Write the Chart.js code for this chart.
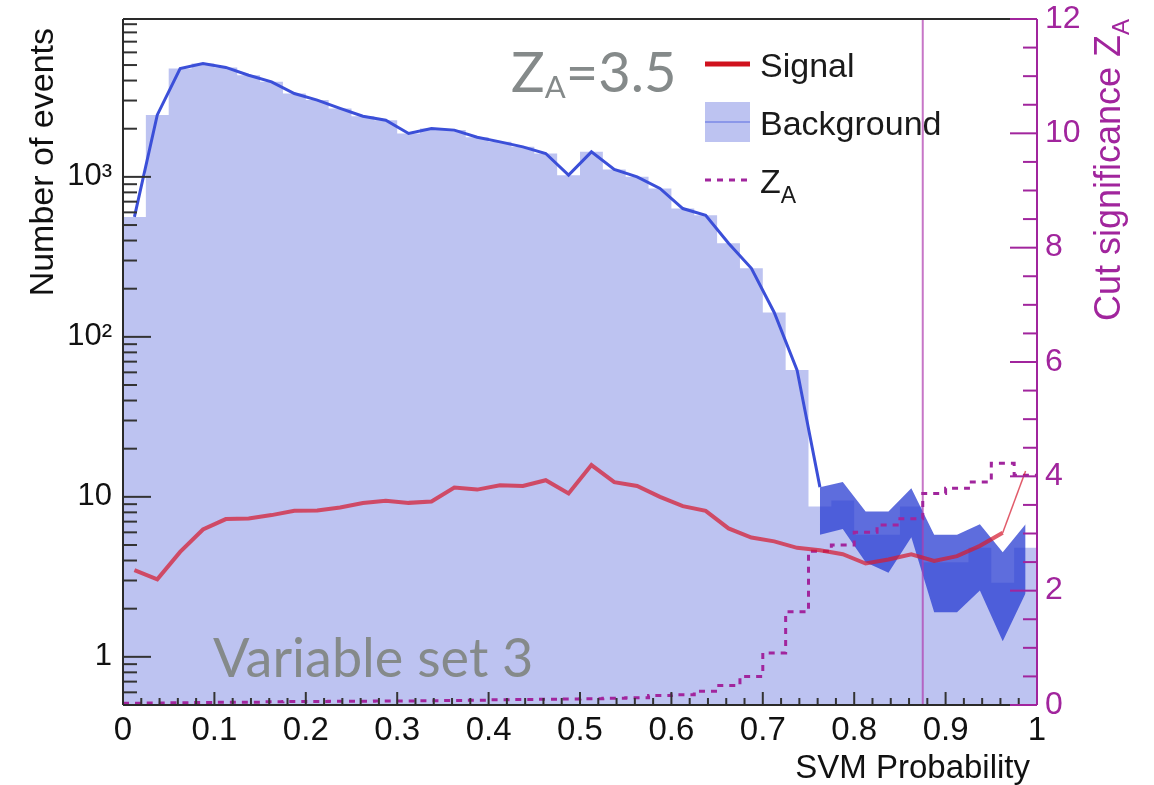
<!DOCTYPE html>
<html>
<head>
<meta charset="utf-8">
<script src="https://cdn.jsdelivr.net/npm/chart.js@4"></script>
<style>
  html, body { margin: 0; padding: 0; background: #fff; }
  #wrap { width: 1154px; height: 785px; }
</style>
</head>
<body>
<div id="wrap"><canvas id="myChart" width="1154" height="785"></canvas></div>
<script>
// 40 bins of SVM probability, 0 .. 1
const binWidth = 0.025;

const background = [562, 2440, 4760, 5110, 4830, 4320, 3925, 3320, 3020, 2680,
  2395, 2260, 1866, 2005, 1960, 1770, 1655, 1540, 1400, 1025,
  1433, 1112, 1000, 847, 634, 576, 385, 268, 142, 62,
  8.7, 9.5, 5.8, 5.8, 8.7, 3.9, 3.9, 4.8, 2.9, 4.8];

const signal = [3.48, 3.05, 4.53, 6.25, 7.26, 7.33, 7.69, 8.18, 8.22, 8.58,
  9.14, 9.44, 9.17, 9.36, 11.45, 11.1, 11.8, 11.7, 12.7, 10.5,
  15.8, 12.35, 11.7, 10.0, 8.75, 8.18, 6.35, 5.57, 5.27, 4.8,
  4.64, 4.38, 3.83, 4.06, 4.38, 3.98, 4.26, 4.94, 5.96, 14.5];

const zA = [0.03, 0.035, 0.04, 0.045, 0.05, 0.05, 0.055, 0.06, 0.06, 0.065,
  0.065, 0.07, 0.07, 0.075, 0.08, 0.085, 0.09, 0.095, 0.1, 0.105,
  0.11, 0.12, 0.125, 0.164, 0.18, 0.24, 0.34, 0.5, 0.91, 1.63,
  2.69, 2.8, 3.02, 3.15, 3.26, 3.7, 3.79, 3.9, 4.23, 4.02];

// background error band, bins 30..39
const bandStart = 30;
const bandHigh = [11.5, 12.4, 8.1, 8.1, 11.3, 5.8, 5.8, 6.75, 4.5, 6.75];
const bandLow = [5.8, 6.3, 3.9, 3.35, 5.6, 1.9, 1.9, 2.6, 1.25, 2.5];

const cutValue = 0.875;

const logTicks = [1, 10, 100, 1000];
const logLabels = ['1', '10', '10²', '10³'];

const MAGENTA = '#a1259d';
const LAVENDER = '#bdc3f1';
const BLUE = '#3b4fd8';
const RED = 'rgba(214, 28, 48, 0.72)';
const SANS = '"Liberation Sans", Arial, sans-serif';

const centre = i => (i + 0.5) * binWidth;

function steps(values) {
  const pts = values.map((v, i) => ({ x: i * binWidth, y: v }));
  pts.push({ x: values.length * binWidth, y: values[values.length - 1] });
  return pts;
}

const bkgLine = background.slice(0, bandStart).map((v, i) => ({ x: centre(i), y: v }));
bkgLine.push({ x: centre(bandStart), y: bandHigh[0] });

Chart.defaults.font.family = SANS;
Chart.defaults.color = '#111';

// text with a subscript, returns total width
function subText(ctx, fam, main, sub, x, y, size, subSize, drop) {
  ctx.font = size + 'px ' + fam;
  ctx.fillText(main, x, y);
  const w = ctx.measureText(main).width;
  ctx.font = subSize + 'px ' + fam;
  ctx.fillText(sub, x + w, y + drop);
  return w + ctx.measureText(sub).width;
}

const rootAxes = {
  id: 'rootAxes',
  afterDatasetsDraw(chart) {
    const { ctx, chartArea: a, scales } = chart;
    const x = scales.x, y = scales.y, y2 = scales.y2;
    const seg = (x1, y1, x2, y2_) => { ctx.beginPath(); ctx.moveTo(x1, y1); ctx.lineTo(x2, y2_); ctx.stroke(); };
    ctx.save();
    ctx.lineWidth = 2;
    ctx.strokeStyle = '#333';
    for (let k = 0; k <= 50; k++) {
      const px = x.getPixelForValue(k / 50);
      seg(px, a.bottom, px, a.bottom - (k % 5 === 0 ? 13 : 7));
    }
    for (let d = -1; d <= 3; d++) {
      for (let m = 1; m <= 9; m++) {
        const v = m * Math.pow(10, d);
        if (v < y.min || v > y.max) continue;
        const py = y.getPixelForValue(v);
        seg(a.left, py, a.left + (m === 1 ? 28 : 14), py);
      }
    }
    ctx.strokeStyle = '#2a2a2a';
    seg(a.left, a.top, a.right, a.top);
    seg(a.left, a.top, a.left, a.bottom);
    seg(a.left, a.bottom, a.right, a.bottom);
    ctx.strokeStyle = MAGENTA;
    for (let k = 0; k <= 24; k++) {
      const py = y2.getPixelForValue(k / 2);
      seg(a.right - (k % 4 === 0 ? 27 : 14), py, a.right, py);
    }
    seg(a.right, a.top, a.right, a.bottom);

    // legend
    ctx.lineWidth = 5;
    ctx.strokeStyle = '#d0121e';
    seg(705, 64, 750, 64);
    ctx.fillStyle = LAVENDER;
    ctx.fillRect(705, 102, 45, 40);
    ctx.lineWidth = 1.5;
    ctx.strokeStyle = '#7b88e6';
    seg(705, 122, 750, 122);
    ctx.lineWidth = 3;
    ctx.strokeStyle = MAGENTA;
    ctx.setLineDash([6, 6]);
    seg(705, 180, 750, 180);
    ctx.setLineDash([]);
    ctx.fillStyle = '#1a1a1a';
    ctx.textAlign = 'left';
    ctx.textBaseline = 'alphabetic';
    ctx.font = '34px ' + SANS;
    ctx.fillText('Signal', 760, 77);
    ctx.fillText('Background', 760, 135);
    subText(ctx, SANS, 'Z', 'A', 760, 193, 34, 23, 10);

    // annotations
    ctx.fillStyle = '#858a8a';
    const w = subText(ctx, 'Lato, sans-serif', 'Z', 'A', 511, 92, 56, 31, 6);
    ctx.font = '56px Lato, sans-serif';
    ctx.fillText('=3.5', 511 + w, 92);
    ctx.font = '54px Lato, sans-serif';
    ctx.fillText('Variable set 3', 213, 677);
    ctx.restore();
  },
  afterDraw(chart) {
    const { ctx } = chart;
    ctx.save();
    ctx.textBaseline = 'alphabetic';
    ctx.fillStyle = '#111';
    ctx.translate(53, 28);
    ctx.rotate(-Math.PI / 2);
    ctx.textAlign = 'right';
    ctx.font = '34px ' + SANS;
    ctx.fillText('Number of events', 0, 0);
    ctx.restore();

    ctx.save();
    ctx.textAlign = 'left';
    ctx.textBaseline = 'alphabetic';
    ctx.fillStyle = MAGENTA;
    ctx.font = '36px ' + SANS;
    const total = ctx.measureText('Cut significance Z').width + 17;
    ctx.translate(1120, 18 + total);
    ctx.rotate(-Math.PI / 2);
    subText(ctx, SANS, 'Cut significance Z', 'A', 0, 0, 36, 24, 9);
    ctx.restore();

    ctx.save();
    ctx.fillStyle = '#111';
    ctx.textAlign = 'right';
    ctx.font = '33px ' + SANS;
    ctx.fillText('SVM Probability', 1030, 778);
    ctx.restore();
  }
};

const noPadY = s => { s.paddingTop = 0; s.paddingBottom = 0; };

new Chart(document.getElementById('myChart'), {
  type: 'line',
  data: {
    datasets: [
      {
        label: 'Signal',
        data: signal.map((v, i) => ({ x: centre(i), y: v })),
        yAxisID: 'y',
        borderColor: RED,
        borderWidth: 4,
        pointRadius: 0,
        segment: { borderWidth: c => (c.p1DataIndex === signal.length - 1 ? 1.5 : 4) },
        fill: false
      },
      {
        label: 'ZA',
        data: steps(zA),
        yAxisID: 'y2',
        stepped: 'before',
        borderColor: MAGENTA,
        borderWidth: 3,
        borderDash: [6, 6],
        pointRadius: 0,
        fill: false
      },
      {
        label: 'cut',
        data: [{ x: cutValue, y: 0 }, { x: cutValue, y: 12 }],
        yAxisID: 'y2',
        borderColor: 'rgba(175, 60, 175, 0.7)',
        borderWidth: 2,
        pointRadius: 0,
        fill: false
      },
      {
        label: 'band up',
        data: bandHigh.map((v, i) => ({ x: centre(bandStart + i), y: v })),
        yAxisID: 'y',
        borderWidth: 0,
        pointRadius: 0,
        backgroundColor: 'rgba(40, 60, 210, 0.75)',
        fill: '+1'
      },
      {
        label: 'band low',
        data: bandLow.map((v, i) => ({ x: centre(bandStart + i), y: v })),
        yAxisID: 'y',
        borderWidth: 0,
        pointRadius: 0,
        fill: false
      },
      {
        label: 'Background',
        data: bkgLine,
        yAxisID: 'y',
        borderColor: BLUE,
        borderWidth: 3,
        pointRadius: 0,
        fill: false
      },
      {
        label: 'Background hist',
        data: steps(background),
        yAxisID: 'y',
        stepped: 'before',
        borderWidth: 0,
        pointRadius: 0,
        backgroundColor: LAVENDER,
        fill: 'start'
      }
    ]
  },
  options: {
    responsive: false,
    animation: false,
    devicePixelRatio: 1,
    layout: { padding: { top: 19, left: 0, right: 0, bottom: 0 } },
    plugins: { legend: { display: false }, tooltip: { enabled: false } },
    scales: {
      x: {
        type: 'linear',
        min: 0,
        max: 1,
        grid: { display: false, drawTicks: false },
        border: { display: false },
        afterFit: s => { s.height = 80; s.paddingLeft = 0; s.paddingRight = 0; },
        ticks: {
          stepSize: 0.1,
          padding: 6,
          font: { size: 33 },
          color: '#111',
          maxRotation: 0,
          callback: v => String(Number(v.toFixed(1)))
        }
      },
      y: {
        type: 'logarithmic',
        position: 'left',
        min: 0.5,
        max: 9700,
        grid: { display: false, drawTicks: false },
        border: { display: false },
        afterFit: s => { s.width = 123; noPadY(s); },
        afterBuildTicks: s => { s.ticks = logTicks.map(v => ({ value: v })); },
        ticks: {
          padding: 11,
          font: { size: 31 },
          color: '#111',
          callback: v => logLabels[logTicks.indexOf(v)]
        }
      },
      y2: {
        type: 'linear',
        position: 'right',
        min: 0,
        max: 12,
        grid: { display: false, drawTicks: false },
        border: { display: false },
        afterFit: s => { s.width = 117; noPadY(s); },
        ticks: {
          stepSize: 2,
          padding: 8,
          font: { size: 32 },
          color: MAGENTA
        }
      }
    }
  },
  plugins: [rootAxes]
});
</script>
</body>
</html>
